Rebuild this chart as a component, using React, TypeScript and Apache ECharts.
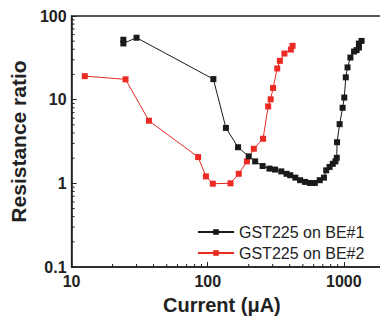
import React, { useEffect, useRef } from "react";
import * as echarts from "echarts";

const xTicksMinor = [20, 30, 40, 50, 60, 70, 80, 90, 200, 300, 400, 500, 600, 700, 800, 900, 2000, 3000];
const yTicksMinor = [0.2, 0.3, 0.4, 0.5, 0.6, 0.7, 0.8, 0.9, 2, 3, 4, 5, 6, 7, 8, 9, 20, 30, 40, 50, 60, 70, 80, 90];

const be1Current = [24, 24, 30, 110, 136, 167, 200, 223, 253, 284, 312, 347, 379, 404, 440, 477, 519, 563, 612, 665, 714, 742, 785, 829, 867, 887, 891, 931, 979, 1007, 1033, 1064, 1117, 1188, 1240, 1290, 1290, 1349];
const be1Ratio = [52, 47, 55, 17.6, 4.6, 2.7, 2.1, 1.83, 1.61, 1.5, 1.46, 1.39, 1.3, 1.25, 1.17, 1.09, 1.04, 1.01, 1.01, 1.09, 1.17, 1.43, 1.57, 1.71, 1.83, 2.02, 3.1, 5.1, 8.0, 10.6, 18.5, 24.3, 31.9, 37.6, 39.1, 42, 46.8, 50.4];

const be2Current = [12.5, 24.9, 37, 85, 97, 109, 147, 169, 194, 218, 255, 278, 290, 302, 324, 339, 366, 408, 420];
const be2Ratio = [19.1, 17.5, 5.6, 2.06, 1.21, 0.99, 1.0, 1.3, 1.83, 2.59, 3.41, 8.3, 10.1, 13.8, 23.6, 29.1, 35.6, 39.7, 44];

const seriesNames = ["GST225 on BE#1", "GST225 on BE#2"];
const xName = "Current (μA)";
const yName = "Resistance ratio";

const FONT = "'Liberation Sans', Arial, sans-serif";
const AXIS = "#222";

export default function App() {
  const ref = useRef<HTMLDivElement>(null);
  useEffect(() => {
    if (!ref.current) return;
    const chart = echarts.init(ref.current, undefined, { renderer: "svg" });
    const fmt = (v: number) => String(+Number(v).toPrecision(3));
    const tickItem = (dir: "x" | "y") => (params: any, api: any) => {
      const p = api.coord([api.value(0), api.value(1)]);
      return {
        type: "line",
        shape: dir === "x"
          ? { x1: p[0], y1: p[1], x2: p[0], y2: p[1] - 3 }
          : { x1: p[0], y1: p[1], x2: p[0] + 3, y2: p[1] },
        style: { stroke: AXIS, lineWidth: 1 },
      };
    };
    chart.setOption({
      animation: false,
      textStyle: { fontFamily: FONT },
      grid: {
        left: 63,
        top: 16,
        bottom: 55,
        right: 0,
        show: true,
        borderColor: AXIS,
        borderWidth: 1.5,
        backgroundColor: "transparent",
      },
      xAxis: {
        type: "log",
        logBase: 10,
        min: 10,
        max: 10000,
        axisLine: { show: true, lineStyle: { color: AXIS, width: 1.5 } },
        axisTick: { show: true, inside: true, length: 5, lineStyle: { color: AXIS, width: 1 } },
        splitLine: { show: false },
        axisLabel: {
          formatter: fmt,
          color: AXIS,
          fontSize: 16,
          fontWeight: "bold",
          fontFamily: FONT,
          margin: 6,
          showMaxLabel: false,
        },
      },
      yAxis: {
        type: "log",
        logBase: 10,
        min: 0.1,
        max: 100,
        name: yName,
        nameLocation: "middle",
        nameGap: 36,
        nameTextStyle: { fontSize: 21, fontWeight: "bold", color: AXIS, fontFamily: FONT },
        axisLine: { show: true, lineStyle: { color: AXIS, width: 1.5 } },
        axisTick: { show: true, inside: true, length: 5, lineStyle: { color: AXIS, width: 1 } },
        splitLine: { show: false },
        axisLabel: {
          formatter: fmt,
          color: AXIS,
          fontSize: 16,
          fontWeight: "bold",
          fontFamily: FONT,
          margin: 5,
        },
      },
      legend: {
        data: seriesNames,
        orient: "vertical",
        left: 192,
        top: 219,
        itemWidth: 36,
        itemHeight: 7,
        itemGap: 5,
        textStyle: { fontSize: 16, color: AXIS, fontFamily: FONT },
      },
      graphic: [
        {
          type: "text",
          left: 163,
          top: 295,
          style: { text: xName, fontSize: 20, fontWeight: "bold", fill: AXIS, fontFamily: FONT },
        },
      ],
      series: [
        {
          name: seriesNames[0],
          type: "line",
          data: be1Current.map((c, i) => [c, be1Ratio[i]]),
          symbol: "rect",
          symbolSize: 6,
          color: "#1a1a1a",
          lineStyle: { width: 1, color: "#1a1a1a" },
          itemStyle: { color: "#1a1a1a" },
          z: 3,
        },
        {
          name: seriesNames[1],
          type: "line",
          data: be2Current.map((c, i) => [c, be2Ratio[i]]),
          symbol: "rect",
          symbolSize: 6,
          color: "#ec2a24",
          lineStyle: { width: 1, color: "#ec2a24" },
          itemStyle: { color: "#ec2a24" },
          z: 2,
        },
        {
          type: "custom",
          silent: true,
          renderItem: tickItem("x"),
          data: xTicksMinor.map((v) => [v, 0.1]),
        },
        {
          type: "custom",
          silent: true,
          renderItem: tickItem("y"),
          data: yTicksMinor.map((v) => [10, v]),
        },
      ],
    });
    return () => chart.dispose();
  }, []);
  return (
    <div
      style={{ position: "absolute", left: 0, top: 0, width: 380, height: 322, overflow: "hidden", background: "#fff" }}
    >
      <div ref={ref} style={{ width: 480, height: 322 }} />
    </div>
  );
}
